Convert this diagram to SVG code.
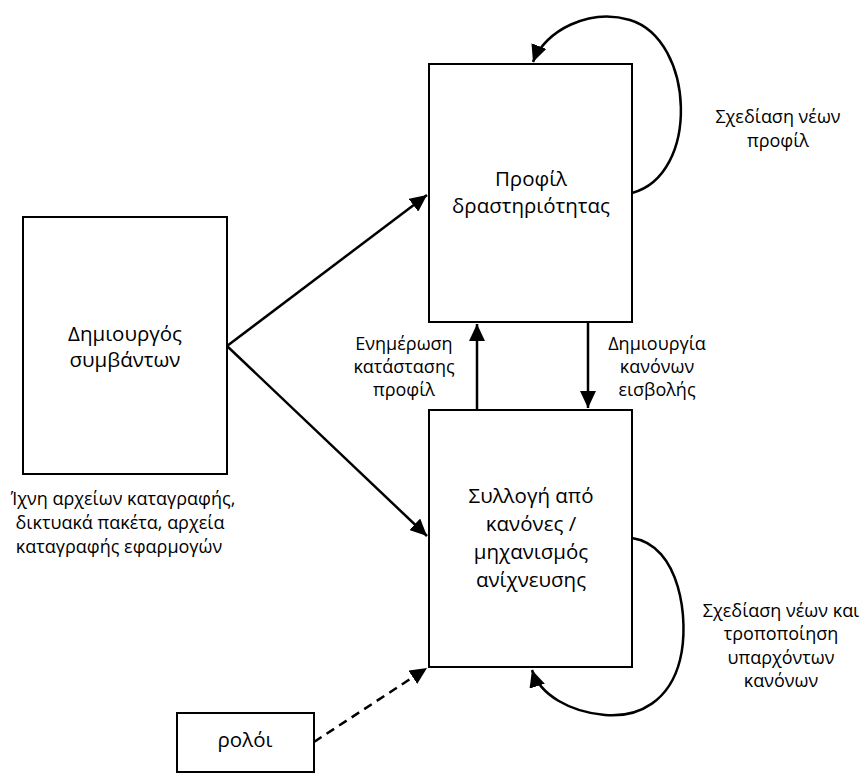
<svg xmlns="http://www.w3.org/2000/svg" width="866" height="776" viewBox="0 0 866 776">
<defs>
<marker id="ah" markerUnits="userSpaceOnUse" markerWidth="18" markerHeight="16" refX="17" refY="8" orient="auto">
<path d="M0,0 L17,8 L0,16 z" fill="#000"/>
</marker>
<style>
.box{fill:#fff;stroke:#000;stroke-width:2}
.t{font-family:"Open Sans","Noto Sans",sans-serif;fill:#000;text-anchor:middle}
.big{font-size:20.5px}
.sm{font-size:18px}
.c{fill:none;stroke:#000;stroke-width:2.5}
.d{stroke-dasharray:9,6}
</style>
</defs>
<rect width="866" height="776" fill="#fff"/>
<g id="connectors">
<path class="c" d="M227,346 L427,195" marker-end="url(#ah)"/>
<path class="c" d="M227,346 L427,536" marker-end="url(#ah)"/>
<path class="c" d="M477,410 L477,324" marker-end="url(#ah)"/>
<path class="c" d="M588,322 L588,408" marker-end="url(#ah)"/>
<path class="c d" d="M314,742 L427,668" marker-end="url(#ah)"/>
<path class="c" d="M632,193 C700,175 695,40 630,20 C590,8 545,30 533,62" marker-end="url(#ah)"/>
<path class="c" d="M632,538 C680,545 690,620 680,660 C670,700 640,718 605,715 C570,712 540,695 532,670" marker-end="url(#ah)"/>
</g>
<g id="profile">
<rect class="box" x="429" y="64" width="203" height="258"/>
<text class="t big" x="531" y="186">Προφίλ</text>
<text class="t big" x="531" y="213">δραστηριότητας</text>
</g>
<g id="rules">
<rect class="box" x="429" y="410" width="203" height="257"/>
<text class="t big" x="531" y="503">Συλλογή από</text>
<text class="t big" x="531" y="531">κανόνες /</text>
<text class="t big" x="531" y="559">μηχανισμός</text>
<text class="t big" x="531" y="587">ανίχνευσης</text>
</g>
<g id="generator">
<rect class="box" x="23" y="217" width="204" height="257"/>
<text class="t big" x="125" y="341">Δημιουργός</text>
<text class="t big" x="125" y="367">συμβάντων</text>
</g>
<g id="clock">
<rect class="box" x="177" y="713" width="137" height="59"/>
<text class="t big" x="245" y="747">ρολόι</text>
</g>
<g id="labels">
<text class="t sm" x="123" y="505">Ίχνη αρχείων καταγραφής,</text>
<text class="t sm" x="120" y="529">δικτυακά πακέτα, αρχεία</text>
<text class="t sm" x="119" y="553">καταγραφής εφαρμογών</text>
<text class="t sm" x="404" y="350">Ενημέρωση</text>
<text class="t sm" x="404" y="373">κατάστασης</text>
<text class="t sm" x="404" y="396">προφίλ</text>
<text class="t sm" x="657" y="350">Δημιουργία</text>
<text class="t sm" x="657" y="373">κανόνων</text>
<text class="t sm" x="657" y="396">εισβολής</text>
<text class="t sm" x="778" y="123">Σχεδίαση νέων</text>
<text class="t sm" x="778" y="147">προφίλ</text>
<text class="t sm" x="781" y="617">Σχεδίαση νέων και</text>
<text class="t sm" x="781" y="640">τροποποίηση</text>
<text class="t sm" x="781" y="664">υπαρχόντων</text>
<text class="t sm" x="781" y="687">κανόνων</text>
</g>
</svg>
